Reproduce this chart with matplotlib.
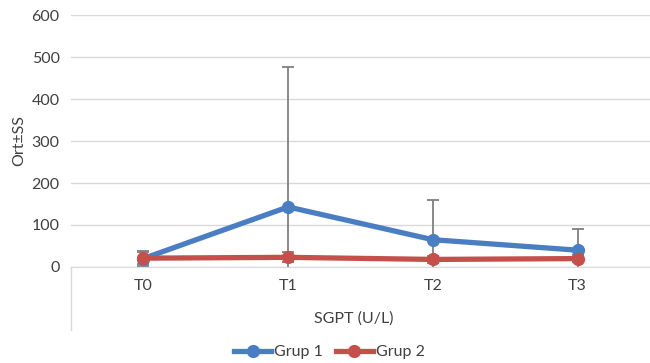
import matplotlib
matplotlib.use("Agg")
import matplotlib.pyplot as plt
from matplotlib.lines import Line2D

plt.rcParams['font.family'] = ['Lato', 'DejaVu Sans']

categories = ["T0", "T1", "T2", "T3"]
grup1 = [20, 143, 65, 40]
grup1_sd = [17, 333, 95, 50]
grup2 = [21, 23, 18, 20]
grup2_sd = [14, 12, 8, 8]
series_names = ["Grup 1", "Grup 2"]
yticks = [0, 100, 200, 300, 400, 500, 600]

blue = "#4A7EC2"
red = "#C5504B"
grey = "#7F7F7F"
text_c = "#404040"
fs = 11.5

fig = plt.figure(figsize=(6.5, 3.63), dpi=100)
ax = fig.add_axes([0.109, 0.2645, 0.891, 0.694])

x = list(range(len(categories)))
for vals, sd in [(grup1, grup1_sd), (grup2, grup2_sd)]:
    ax.errorbar(x, vals, yerr=sd, fmt='none', ecolor=grey, elinewidth=1.3,
                capsize=4, capthick=1.3, zorder=2)
for vals, col, name in [(grup1, blue, series_names[0]), (grup2, red, series_names[1])]:
    ax.plot(x, vals, color=col, lw=3.8, marker='o', markersize=8.5, label=name, zorder=3)

ax.set_xlim(-0.5, len(categories) - 0.5)
ax.set_ylim(0, 600)
ax.set_yticks(yticks)
ax.set_xticks(x)
ax.set_xticklabels(categories)
ax.grid(axis='y', color='#D9D9D9', lw=1)
ax.set_axisbelow(True)
for s in ['top', 'right', 'left']:
    ax.spines[s].set_visible(False)
ax.spines['bottom'].set_color('#D9D9D9')
ax.tick_params(axis='both', length=0, labelsize=fs, colors=text_c, pad=8)
ax.tick_params(axis='x', pad=9)
ax.set_ylabel("Ort±SS", fontsize=fs, color=text_c, labelpad=4)

# category axis frame line below plot
fig.add_artist(Line2D([0.109, 0.109], [0.09, 0.2645], color='#D9D9D9', lw=1,
                      transform=fig.transFigure))
fig.text(0.5 + 0.109 / 2 - 0.01, 0.122, "SGPT (U/L)", ha='center', va='center',
         fontsize=fs, color=text_c)

leg = fig.legend(loc='center', bbox_to_anchor=(0.507, 0.03), ncol=2, frameon=False,
                 fontsize=fs, handlelength=2.3, columnspacing=0.8, handletextpad=0.2)
for t in leg.get_texts():
    t.set_color(text_c)

fig.savefig("out.png", dpi=100)
